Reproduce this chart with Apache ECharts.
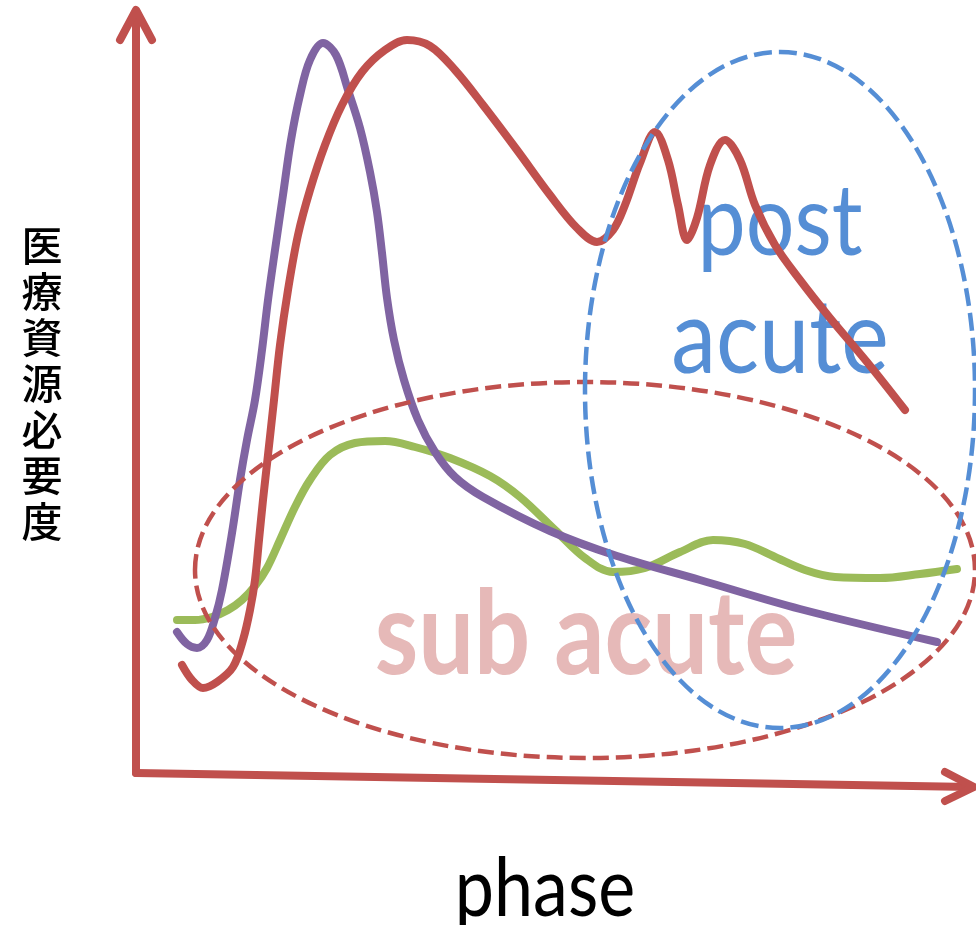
<!DOCTYPE html>
<html>
<head>
<meta charset="utf-8">
<script src="https://cdn.jsdelivr.net/npm/echarts@6/dist/echarts.min.js"></script>
<style>
html,body{margin:0;padding:0;background:#fff;}
#chart{width:976px;height:925px;}
</style>
</head>
<body>
<div id="chart"></div>
<script>
const purpleCurve = [[177,632],[187,644],[197,648],[207,640],[215,618],[222,590],[232,533],[240,480],[247,440],[255,400],[262,350],[268,300],[275,250],[283,195],[291,140],[300,95],[310,60],[323,43],[336,55],[348,90],[360,128],[370,172],[377,212],[382,253],[387,298],[394,340],[404,380],[418,420],[435,452],[455,477],[483,497],[550,531],[617,556],[700,580],[800,609],[937,642]];
const redCurve = [[182,665],[192,680],[203,688],[217,682],[233,667],[243,640],[250,610],[255,580],[259,540],[263,500],[268,455],[274,400],[280,345],[288,290],[298,235],[310,190],[325,145],[342,105],[362,72],[385,50],[407,40],[430,46],[455,70],[483,105],[517,150],[550,195],[577,228],[597,242],[613,230],[625,205],[640,163],[655,132],[668,160],[678,205],[687,240],[697,218],[710,165],[725,140],[740,160],[755,205],[775,245],[800,280],[830,318],[867,362],[905,410]];
const greenCurve = [[177,620],[195,620],[212,617],[228,610],[242,600],[255,586],[267,568],[280,540],[295,507],[310,480],[330,455],[355,443],[385,441],[415,447],[450,458],[490,476],[520,497],[555,530],[585,558],[613,572],[645,568],[680,552],[713,540],[745,544],[775,557],[805,570],[835,577],[880,578],[920,574],[957,569]];
// ellipses: [centerX, centerY, radiusX, radiusY]
const subAcuteEllipse = [[585,570,390,188]];
const postAcuteEllipse = [[780,390,195,338]];
// axes drawn as arrows
const yAxisLine = [[136,773],[136,12]];
const yAxisHead = [[120,40],[136,10],[152,40]];
const xAxisLine = [[136,773],[972,787]];
const xAxisHead = [[945,772],[974,787],[945,801]];
const yAxisTitle = ['医','療','資','源','必','要','度'];
const xAxisTitle = 'phase';
const regionLabels = ['post','acute','sub acute'];

const chart = echarts.init(document.getElementById('chart'));

function ellipseSeries(data, color, dash, width) {
  return {
    type: 'custom', data: data, z: 5, silent: true, clip: false,
    encode: {x: 0, y: 1},
    renderItem: function (params, api) {
      const c = api.coord([api.value(0), api.value(1)]);
      const e = api.coord([api.value(0) + api.value(2), api.value(1) + api.value(3)]);
      return {
        type: 'ellipse',
        shape: {cx: c[0], cy: c[1], rx: Math.abs(e[0] - c[0]), ry: Math.abs(e[1] - c[1])},
        style: {fill: 'none', stroke: color, lineWidth: width, lineDash: dash}
      };
    }
  };
}
function lineSeries(data, color, width, smooth, z) {
  return {
    type: 'line', data: data, smooth: smooth, showSymbol: false, symbol: 'none', z: z, silent: true,
    lineStyle: {color: color, width: width, cap: 'round', join: 'round'}
  };
}

chart.setOption({
  animation: false,
  backgroundColor: '#ffffff',
  grid: {left: 0, right: 0, top: 0, bottom: 0},
  xAxis: {type: 'value', min: 0, max: 976, show: false},
  yAxis: {type: 'value', min: 0, max: 925, inverse: true, show: false},
  graphic: [
    {type: 'text', x: 42, y: 383, z: 1, style: {text: yAxisTitle.join('\n'), font: '500 41px "Noto Sans CJK JP"', lineHeight: 46, fill: '#000', textAlign: 'center', textVerticalAlign: 'middle', verticalAlign: 'middle'}},
    {type: 'text', x: 545, y: 890, z: 1, scaleY: 1.15, style: {text: xAxisTitle, font: '70px Lato', fill: '#000', textAlign: 'center', textVerticalAlign: 'middle', verticalAlign: 'middle'}},
    {type: 'text', x: 780, y: 223, z: 1, scaleY: 1.15, style: {text: regionLabels[0], font: '86px Lato', fill: '#558ED5', textAlign: 'center', textVerticalAlign: 'middle', verticalAlign: 'middle'}},
    {type: 'text', x: 780, y: 340, z: 1, scaleY: 1.15, style: {text: regionLabels[1], font: '90px Lato', fill: '#558ED5', textAlign: 'center', textVerticalAlign: 'middle', verticalAlign: 'middle'}},
    {type: 'text', x: 586, y: 636, z: 1, scaleY: 1.18, style: {text: regionLabels[2], font: 'bold 99px Lato', fill: '#E6B9B8', textAlign: 'center', textVerticalAlign: 'middle', verticalAlign: 'middle'}}
  ],
  series: [
    lineSeries(yAxisLine, '#C0504D', 8, false, 2),
    lineSeries(yAxisHead, '#C0504D', 8, false, 2),
    lineSeries(xAxisLine, '#C0504D', 8, false, 2),
    lineSeries(xAxisHead, '#C0504D', 8, false, 2),
    lineSeries(greenCurve, '#9BBB59', 8, 0.35, 3),
    lineSeries(purpleCurve, '#8064A2', 8, 0.35, 3),
    lineSeries(redCurve, '#C0504D', 8, 0.35, 4),
    ellipseSeries(subAcuteEllipse, '#C0504D', [16, 7], 4.5),
    ellipseSeries(postAcuteEllipse, '#558ED5', [18, 7], 4.5)
  ]
});
</script>
</body>
</html>
